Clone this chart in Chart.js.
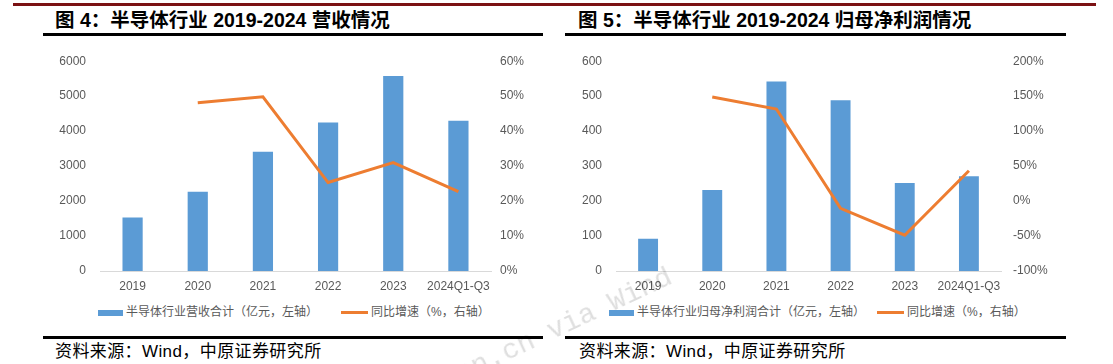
<!DOCTYPE html>
<html>
<head>
<meta charset="utf-8">
<script src="https://cdn.jsdelivr.net/npm/chart.js@4/dist/chart.umd.min.js"></script>
<style>
  body { margin: 0; background: #fff; }
  #page { position: relative; width: 1113px; height: 364px; overflow: hidden; font-family: "Liberation Sans", Arial, "Noto Sans CJK SC", sans-serif; }
  .abs { position: absolute; }
  .redline { left: 13px; top: 3px; width: 1083px; height: 3px; background: #7B1113; }
  .title { top: 8px; font-size: 19.5px; font-weight: bold; color: #000; white-space: nowrap; line-height: 24px; }
  .rule { height: 3px; background: #000; }
  .source { top: 340px; font-size: 17px; color: #000; white-space: nowrap; line-height: 24px; letter-spacing: 0.4px; }
  .legend { top: 304px; font-size: 12px; color: #595959; white-space: nowrap; line-height: 16px; }
  .sw { display: inline-block; vertical-align: middle; margin-right: 3px; }
  .sw.bar { width: 25px; height: 6px; background: #5B9BD5; }
  .sw.line { width: 27px; height: 3px; background: #ED7D31; }
  .mark { font-family: "Liberation Mono", "DejaVu Sans Mono", monospace; font-size: 28px; line-height: 28px; color: rgba(0,0,0,0.13); transform: rotate(-25deg); transform-origin: 0 22px; white-space: nowrap; }
  canvas { position: absolute; }
</style>
</head>
<body>
<div id="page">
  <div class="abs redline"></div>

  <div class="abs title" style="left:55px;">图 4：半导体行业 2019-2024 营收情况</div>
  <div class="abs rule" style="left:43px; top:33px; width:500px;"></div>
  <div class="abs title" style="left:578px;">图 5：半导体行业 2019-2024 归母净利润情况</div>
  <div class="abs rule" style="left:565px; top:33px; width:501px;"></div>

  <canvas id="revChart" style="left:0; top:40px;" width="556" height="260"></canvas>
  <canvas id="profitChart" style="left:556px; top:40px;" width="557" height="260"></canvas>

  <div class="abs legend" style="left:98px;"><span class="sw bar"></span>半导体行业营收合计（亿元，左轴）</div>
  <div class="abs legend" style="left:341px;"><span class="sw line"></span>同比增速（%，右轴）</div>
  <div class="abs legend" style="left:609px;"><span class="sw bar"></span>半导体行业归母净利润合计（亿元，左轴）</div>
  <div class="abs legend" style="left:877px;"><span class="sw line"></span>同比增速（%，右轴）</div>

  <div class="abs rule" style="left:43px; top:336px; width:500px;"></div>
  <div class="abs rule" style="left:565px; top:336px; width:501px;"></div>
  <div class="abs source" style="left:55px;">资料来源：Wind，中原证券研究所</div>
  <div class="abs source" style="left:579px;">资料来源：Wind，中原证券研究所</div>

  <div class="abs mark" style="left:461px; top:361px;">an.cn via Wind</div>
</div>

<script>
// categories and values
const categories = ['2019', '2020', '2021', '2022', '2023', '2024Q1-Q3'];

const revenue = [1528, 2270, 3408, 4250, 5575, 4297];          // 亿元
const revenueYoY = [null, 48.1, 49.8, 25.3, 31.0, 22.7];         // %

const netProfit = [92, 232, 542, 488, 252, 271];                 // 亿元
const netProfitYoY = [null, 148.8, 131.6, -10.3, -48.8, 43.3];   // %

const revLeftTicks = { min: 0, max: 6000, step: 1000 };
const revRightTicks = { min: 0, max: 60, step: 10 };
const profitLeftTicks = { min: 0, max: 600, step: 100 };
const profitRightTicks = { min: -100, max: 200, step: 50 };

const BAR_COLOR = '#5B9BD5';
const LINE_COLOR = '#ED7D31';
const TICK_COLOR = '#595959';
const TICK_FONT = { family: '"Liberation Sans", Arial, sans-serif', size: 12 };

function buildChart(canvasId, bars, yoy, left, right, dims) {
    const canvas = document.getElementById(canvasId);
    return new Chart(canvas.getContext('2d'), {
        type: 'bar',
        data: {
            labels: categories,
            datasets: [{
                type: 'line',
                data: yoy,
                yAxisID: 'y1',
                borderColor: LINE_COLOR,
                borderWidth: 3,
                pointRadius: 0,
                tension: 0,
                order: 0
            }, {
                type: 'bar',
                data: bars,
                yAxisID: 'y',
                backgroundColor: BAR_COLOR,
                barPercentage: 0.31,
                categoryPercentage: 1,
                order: 1
            }]
        },
        options: {
            responsive: false,
            animation: false,
            layout: { padding: { top: 15, left: 0, right: 0, bottom: 0 } },
            plugins: {
                legend: { display: false },
                tooltip: { enabled: false }
            },
            scales: {
                x: {
                    grid: { display: false, drawTicks: false },
                    border: { display: true, color: '#D9D9D9', width: 1 },
                    ticks: { color: TICK_COLOR, font: TICK_FONT, padding: 8, maxRotation: 0, autoSkip: false },
                    afterFit(scale) { scale.height = 29; }
                },
                y: {
                    position: 'left',
                    min: left.min,
                    max: left.max,
                    grid: { display: false, drawTicks: false },
                    border: { display: false },
                    ticks: {
                        stepSize: left.step,
                        color: TICK_COLOR,
                        font: TICK_FONT,
                        padding: 14,
                        callback: v => String(v)
                    },
                    afterFit(scale) { scale.width = dims.leftWidth; }
                },
                y1: {
                    position: 'right',
                    min: right.min,
                    max: right.max,
                    grid: { display: false, drawTicks: false },
                    border: { display: false },
                    ticks: {
                        stepSize: right.step,
                        color: TICK_COLOR,
                        font: TICK_FONT,
                        padding: dims.rightPad,
                        callback: v => v + '%'
                    },
                    afterFit(scale) { scale.width = dims.rightWidth; }
                }
            }
        }
    });
}

buildChart('revChart', revenue, revenueYoY, revLeftTicks, revRightTicks,
    { leftWidth: 100, rightWidth: 65, rightPad: 9 });
buildChart('profitChart', netProfit, netProfitYoY, profitLeftTicks, profitRightTicks,
    { leftWidth: 60, rightWidth: 112, rightPad: 12 });
</script>
</body>
</html>
